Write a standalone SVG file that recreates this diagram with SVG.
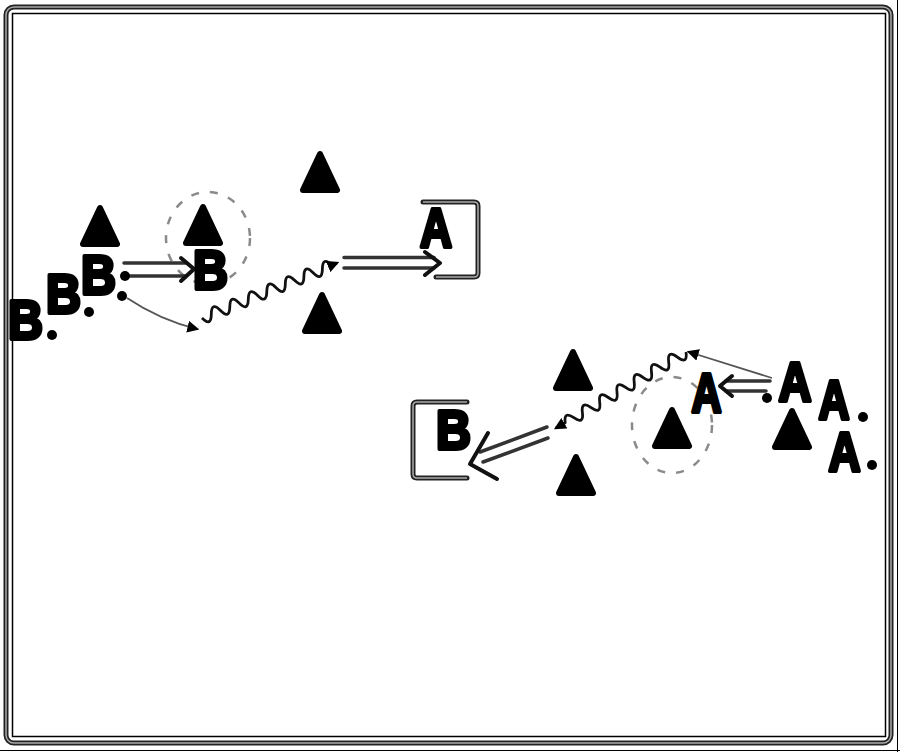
<svg xmlns="http://www.w3.org/2000/svg" width="900" height="752" viewBox="0 0 900 752">
<style>
.lbl{font-family:"Liberation Sans",Arial,sans-serif;font-weight:bold;font-size:55px;fill:#000;stroke:#000;stroke-width:4;stroke-linejoin:round}
.cone{fill:#000;stroke:#000;stroke-width:6;stroke-linejoin:round}
.dot{fill:#000}
.zone{fill:none;stroke:#8a8a8a;stroke-width:2.5;stroke-dasharray:8 11}
.tubeO{fill:none;stroke:#222;stroke-width:5;stroke-linejoin:round;stroke-linecap:round}
.tubeI{fill:none;stroke:#aaa;stroke-width:1.5;stroke-linejoin:round}
.pass{fill:none;stroke:#333;stroke-width:3.5;stroke-linecap:round}
.head{fill:none;stroke:#111;stroke-width:4;stroke-linejoin:round;stroke-linecap:round}
.run{fill:none;stroke:#555;stroke-width:1.8}
.drib{fill:none;stroke:#111;stroke-width:2.8;stroke-linejoin:round}
</style>
<defs>
<path id="cone" d="M0,-18 L17,18 L-17,18 Z"/>
<marker id="ah" viewBox="0 0 10 10" refX="8" refY="5" markerWidth="12" markerHeight="12" markerUnits="userSpaceOnUse" orient="auto">
<path d="M0,0 L10,5 L0,10 z" fill="#000"/>
</marker>
</defs>
<rect width="900" height="752" fill="#fff"/>
<g id="frame">
<rect x="6" y="7" width="885" height="736" rx="8" class="tubeO"/>
<rect x="6" y="7" width="885" height="736" rx="8" class="tubeI"/>
<rect x="12.5" y="13.5" width="873" height="723" fill="none" stroke="#000" stroke-width="1.5"/>
<line x1="0" y1="750.5" x2="900" y2="750.5" stroke="#000" stroke-width="1"/>
<line x1="897.5" y1="0" x2="897.5" y2="752" stroke="#000" stroke-width="1"/>
</g>
<g id="zones">
<ellipse cx="208" cy="238" rx="42" ry="46" class="zone"/>
<ellipse cx="672" cy="425" rx="40" ry="48" class="zone"/>
</g>
<g id="boxes">
<path d="M423,202 L474,202 Q478,202 478,206 L478,273 Q478,277 474,277 L436,277" class="tubeO"/>
<path d="M423,202 L474,202 Q478,202 478,206 L478,273 Q478,277 474,277 L436,277" class="tubeI"/>
<path d="M467,402 L417,402 Q413,402 413,406 L413,474 Q413,478 417,478 L467,478" class="tubeO"/>
<path d="M467,402 L417,402 Q413,402 413,406 L413,474 Q413,478 417,478 L467,478" class="tubeI"/>
</g>
<g id="cones">
<use href="#cone" x="100" y="226" class="cone"/>
<use href="#cone" x="203" y="225" class="cone"/>
<use href="#cone" x="320" y="172" class="cone"/>
<use href="#cone" x="322" y="313" class="cone"/>
<use href="#cone" x="573" y="370" class="cone"/>
<use href="#cone" x="576" y="475" class="cone"/>
<use href="#cone" x="672" y="428" class="cone"/>
<use href="#cone" x="792" y="429" class="cone"/>
</g>
<g id="connectors">
<path d="M124,263 L186,263 M127,276 L186,276" class="pass"/>
<path d="M181,258 L194,269 L181,281" class="head"/>
<path d="M127,298 Q160,320 197,329" class="run" marker-end="url(#ah)"/>
<path d="M202,318 Q211.2,327.2 211.3,314.2 T220.5,310.5 T229.8,306.7 T239,302.9 T248.3,299.2 T257.6,295.4 T266.8,291.6 T276.1,287.8 T285.3,284.1 T294.6,280.3 T303.9,276.5 T313.1,272.8 T322.4,269 T331.6,265.2 L337,263" class="drib" marker-end="url(#ah)"/>
<path d="M344,257.5 L434,257.5 M344,268 L434,268" class="pass"/>
<path d="M425,252 L440,263 L425,275" class="head"/>
<path d="M772,378 L689,352" class="run" marker-end="url(#ah)"/>
<path d="M686,352 Q687.8,364.9 677.4,357.1 T668.7,362.1 T660.1,367.2 T651.5,372.2 T642.9,377.3 T634.2,382.3 T625.6,387.4 T617,392.4 T608.3,397.5 T599.7,402.5 T591.1,407.6 T582.4,412.6 T573.8,417.7 T565.2,422.7 L556,428" class="drib" marker-end="url(#ah)"/>
<path d="M770,381 L726,381 M766,391 L726,391" class="pass"/>
<path d="M732,376 L720,386 L732,396" class="head"/>
<path d="M547,427 L480,452 M548,438 L483,462" class="pass"/>
<path d="M488,433 L470,464 L497,479" class="head"/>
</g>
<g id="players">
<g id="b1"><text x="8" y="338.5" class="lbl" textLength="35" lengthAdjust="spacingAndGlyphs">B</text><circle cx="52" cy="335" r="5" class="dot"/></g>
<g id="b2"><text x="46" y="312.5" class="lbl" textLength="35" lengthAdjust="spacingAndGlyphs">B</text><circle cx="89" cy="312" r="5" class="dot"/></g>
<g id="b3"><text x="81" y="293.5" class="lbl" textLength="35" lengthAdjust="spacingAndGlyphs">B</text><circle cx="125" cy="276" r="5" class="dot"/><circle cx="122" cy="296" r="5" class="dot"/></g>
<g id="b4"><text x="193" y="288.5" class="lbl" textLength="35" lengthAdjust="spacingAndGlyphs">B</text></g>
<g id="b5"><text x="436" y="448.5" class="lbl" textLength="35" lengthAdjust="spacingAndGlyphs">B</text></g>
<g id="a0"><text x="420" y="246.5" class="lbl" textLength="32" lengthAdjust="spacingAndGlyphs">A</text></g>
<g id="a1"><text x="691.5" y="411.5" class="lbl" textLength="30" lengthAdjust="spacingAndGlyphs">A</text></g>
<g id="a2"><text x="778.5" y="400.5" class="lbl" textLength="33" lengthAdjust="spacingAndGlyphs">A</text><circle cx="767" cy="398" r="5" class="dot"/></g>
<g id="a3"><text x="818.5" y="418.5" class="lbl" textLength="31" lengthAdjust="spacingAndGlyphs">A</text><circle cx="863" cy="417" r="5" class="dot"/></g>
<g id="a4"><text x="828.5" y="470.5" class="lbl" textLength="32" lengthAdjust="spacingAndGlyphs">A</text><circle cx="872" cy="465" r="5" class="dot"/></g>
</g>
</svg>
